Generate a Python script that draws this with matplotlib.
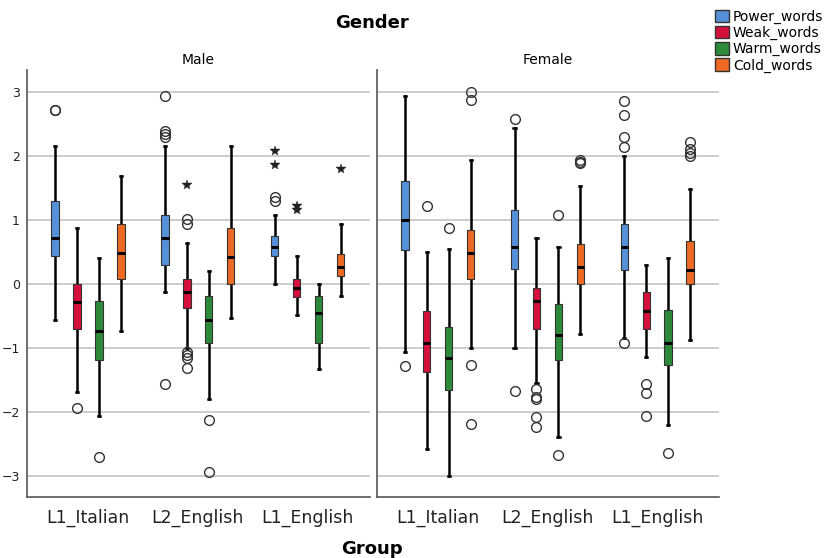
import matplotlib
matplotlib.use("Agg")
import matplotlib.pyplot as plt
from matplotlib.patches import Patch

groups = ["L1_Italian", "L2_English", "L1_English"]
series = ["Power_words", "Weak_words", "Warm_words", "Cold_words"]
colors = ["#5591d9", "#d5103c", "#2b8b3b", "#ee6a24"]
panels = ["Male", "Female"]

# box stats per panel, per group, per series: (whislo, q1, med, q3, whishi)
male_stats = [
    [(-0.57, 0.43, 0.71, 1.29, 2.15), (-1.69, -0.71, -0.29, 0.0, 0.87),
     (-2.07, -1.19, -0.73, -0.26, 0.41), (-0.73, 0.07, 0.48, 0.93, 1.68)],
    [(-0.13, 0.29, 0.71, 1.07, 2.15), (-1.0, -0.37, -0.13, 0.07, 0.64),
     (-1.80, -0.93, -0.57, -0.19, 0.20), (-0.53, 0.0, 0.42, 0.87, 2.15)],
    [(0.0, 0.43, 0.58, 0.75, 1.07), (-0.49, -0.21, -0.07, 0.07, 0.43),
     (-1.33, -0.93, -0.46, -0.19, 0.0), (-0.19, 0.13, 0.27, 0.47, 0.93)],
]
female_stats = [
    [(-1.06, 0.53, 1.0, 1.61, 2.94), (-2.57, -1.37, -0.92, -0.43, 0.50),
     (-3.0, -1.66, -1.16, -0.67, 0.54), (-1.0, 0.07, 0.48, 0.84, 1.94)],
    [(-1.0, 0.23, 0.58, 1.15, 2.43), (-1.54, -0.70, -0.26, -0.07, 0.71),
     (-2.39, -1.19, -0.80, -0.32, 0.57), (-0.78, 0.0, 0.27, 0.63, 1.53)],
    [(-0.85, 0.21, 0.58, 0.93, 2.0), (-1.14, -0.71, -0.42, -0.13, 0.29),
     (-2.20, -1.27, -0.92, -0.40, 0.41), (-0.88, 0.0, 0.22, 0.67, 1.48)],
]

# outliers (circles) and extremes (stars)
male_circles = [
    [[2.71, 2.72], [-1.93], [-2.70], []],
    [[2.94, 2.38, 2.34, 2.30, -1.56], [1.02, 0.93, -1.06, -1.11, -1.15, -1.31], [-2.13, -2.93], []],
    [[1.36, 1.30], [], [], []],
]
male_stars = [
    [[], [], [], []],
    [[], [1.54], [], []],
    [[2.08, 1.86], [1.22, 1.15], [], [1.79]],
]
female_circles = [
    [[-1.28], [1.22], [0.88], [3.0, 2.87, -1.27, -2.19]],
    [[2.57, -1.68], [-1.64, -1.76, -1.79, -2.08, -2.23], [1.07, -2.67], [1.94, 1.91, 1.88]],
    [[2.86, 2.64, 2.29, 2.14, -0.92], [-1.56, -1.71, -2.06], [-2.64], [2.21, 2.10, 2.04, 2.0]],
]
female_stars = [[[], [], [], []] for _ in range(3)]

all_stats = [male_stats, female_stats]
all_circles = [male_circles, female_circles]
all_stars = [male_stars, female_stars]

fig = plt.figure(figsize=(8.33, 5.58), dpi=100)
ax_pos = [[0.0324, 0.109, 0.4116, 0.7656], [0.4526, 0.109, 0.4104, 0.7656]]
offsets = [-0.3, -0.1, 0.1, 0.3]

for p in range(2):
    ax = fig.add_axes(ax_pos[p])
    for g in range(len(groups)):
        for s in range(len(series)):
            lo, q1, med, q3, hi = all_stats[p][g][s]
            pos = g + offsets[s]
            st = dict(whislo=lo, q1=q1, med=med, q3=q3, whishi=hi,
                      fliers=all_circles[p][g][s])
            b = ax.bxp([st], positions=[pos], widths=0.065, patch_artist=True,
                       showfliers=True, manage_ticks=False,
                       boxprops=dict(facecolor=colors[s], edgecolor="#333333", linewidth=0.8),
                       medianprops=dict(color="black", linewidth=2.2),
                       whiskerprops=dict(color="black", linewidth=1.8),
                       capprops=dict(color="black", linewidth=1.8),
                       capwidths=0.02,
                       flierprops=dict(marker="o", markerfacecolor="none",
                                       markeredgecolor="#333333", markersize=7,
                                       markeredgewidth=1.0))
            for b_ in b["boxes"]:
                b_.set_zorder(3)
            for m in b["medians"]:
                m.set_zorder(4)
            stars = all_stars[p][g][s]
            if stars:
                ax.plot([pos] * len(stars), stars, linestyle="none", marker="*",
                        color="#222222", markersize=7, markeredgewidth=0.3)
    ax.set_xlim(-0.555, 2.564)
    ax.set_ylim(-3.33, 3.34)
    ax.set_yticks([-3, -2, -1, 0, 1, 2, 3])
    ax.yaxis.grid(True, color="#c4c4c4", linewidth=1.2)
    ax.set_axisbelow(True)
    ax.set_xticks(range(len(groups)))
    ax.set_xticklabels(groups, fontsize=12.5)
    ax.tick_params(axis="both", length=0, colors="#222222")
    ax.tick_params(axis="x", pad=8)
    ax.tick_params(axis="y", labelsize=9, pad=5)
    if p == 1:
        ax.set_yticklabels([])
    for sp in ["top", "right"]:
        ax.spines[sp].set_visible(False)
    for sp in ["left", "bottom"]:
        ax.spines[sp].set_color("#555555")
        ax.spines[sp].set_linewidth(1.2)
    ax.set_title(panels[p], fontsize=10, pad=4)

fig.text(0.447, 0.958, "Gender", ha="center", va="center", fontsize=13, fontweight="bold")
fig.text(0.447, 0.017, "Group", ha="center", va="center", fontsize=13, fontweight="bold")

handles = [Patch(facecolor=c, edgecolor="#333333", label=l) for c, l in zip(colors, series)]
fig.legend(handles=handles, loc="upper right", bbox_to_anchor=(1.0, 1.0), frameon=False,
           fontsize=10, handlelength=1.0, handleheight=1.0, handletextpad=0.3,
           labelspacing=0.15, borderaxespad=0.3)

fig.savefig("out.png", dpi=100)
